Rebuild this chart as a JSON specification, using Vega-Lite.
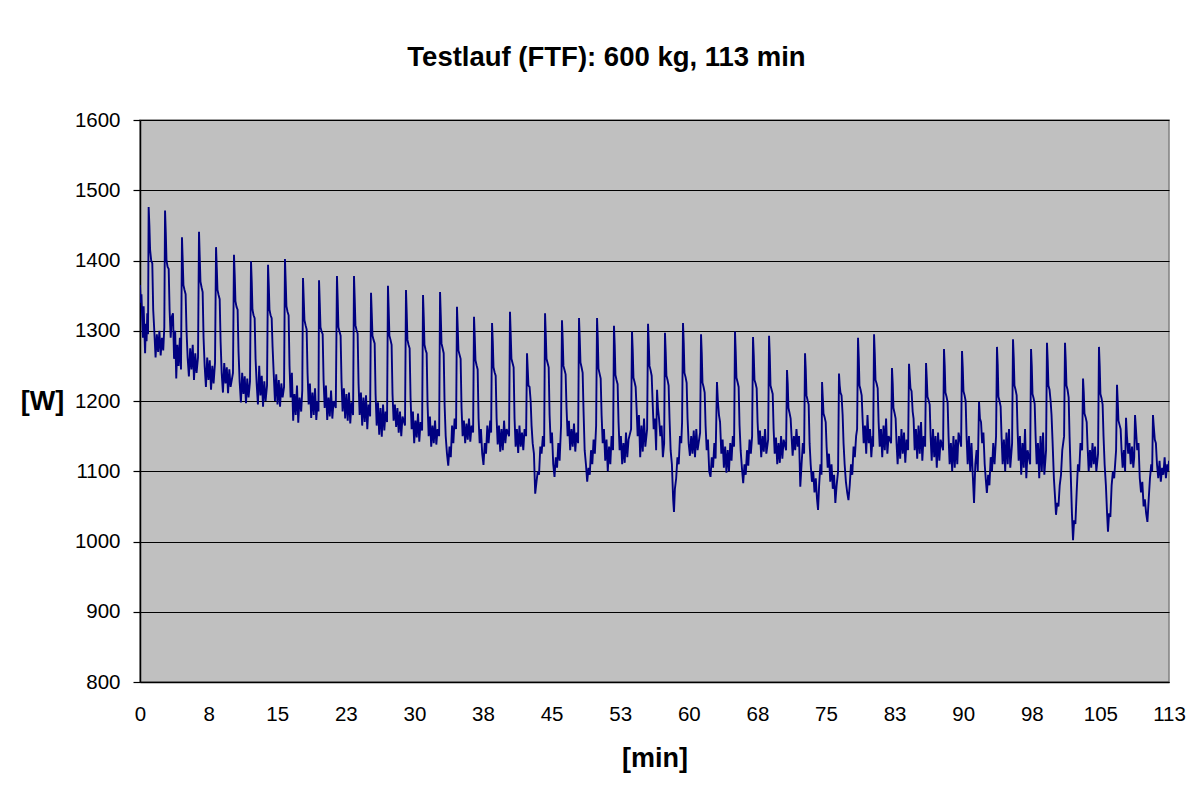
{
  "$schema": "https://vega.github.io/schema/vega-lite/v6.json",
  "autosize": {"type": "none"},
  "padding": {"left": 140, "top": 120, "right": 23, "bottom": 114},
  "width": 1029,
  "height": 562,
  "background": "white",
  "title": {
    "text": "Testlauf (FTF): 600 kg, 113 min",
    "font": "Liberation Sans",
    "fontSize": 27.5,
    "fontWeight": "bold",
    "color": "black",
    "anchor": "middle",
    "frame": "group",
    "dx": -48,
    "baseline": "alphabetic",
    "offset": 17
  },
  "data": {"values": [
    {"t":0,"w":1365},{"t":0.08,"w":1340},{"t":0.16,"w":1352},{"t":0.24,"w":1318},{"t":0.32,"w":1290},{"t":0.4,"w":1335},{"t":0.48,"w":1300},{"t":0.56,"w":1268},{"t":0.64,"w":1310},{"t":0.72,"w":1285},{"t":0.8,"w":1325},{"t":0.88,"w":1295},
    {"t":0.95,"w":1476},{"t":1.03,"w":1450},{"t":1.11,"w":1415},{"t":1.23,"w":1400},{"t":1.35,"w":1396},{"t":1.45,"w":1330},{"t":1.57,"w":1300},{"t":1.71,"w":1262},{"t":1.85,"w":1295},{"t":1.99,"w":1270},{"t":2.13,"w":1300},{"t":2.27,"w":1265},{"t":2.41,"w":1290},{"t":2.55,"w":1272},{"t":2.67,"w":1305},
    {"t":2.75,"w":1471},{"t":2.83,"w":1440},{"t":2.91,"w":1400},{"t":3.03,"w":1391},{"t":3.15,"w":1388},{"t":3.25,"w":1330},{"t":3.37,"w":1290},{"t":3.49,"w":1320},{"t":3.62,"w":1325},{"t":3.74,"w":1260},{"t":3.86,"w":1300},{"t":3.98,"w":1232},{"t":4.1,"w":1280},{"t":4.24,"w":1250},{"t":4.38,"w":1290},{"t":4.5,"w":1245},
    {"t":4.61,"w":1433},{"t":4.69,"w":1400},{"t":4.77,"w":1365},{"t":4.89,"w":1358},{"t":5.01,"w":1352},{"t":5.11,"w":1300},{"t":5.23,"w":1262},{"t":5.37,"w":1235},{"t":5.51,"w":1275},{"t":5.65,"w":1245},{"t":5.79,"w":1280},{"t":5.93,"w":1230},{"t":6.07,"w":1268},{"t":6.21,"w":1240},{"t":6.37,"w":1262},
    {"t":6.48,"w":1441},{"t":6.56,"w":1405},{"t":6.64,"w":1370},{"t":6.76,"w":1362},{"t":6.88,"w":1355},{"t":6.98,"w":1290},{"t":7.1,"w":1250},{"t":7.24,"w":1220},{"t":7.38,"w":1262},{"t":7.52,"w":1230},{"t":7.66,"w":1258},{"t":7.8,"w":1216},{"t":7.94,"w":1250},{"t":8.08,"w":1225},{"t":8.24,"w":1255},
    {"t":8.35,"w":1419},{"t":8.43,"w":1390},{"t":8.51,"w":1358},{"t":8.63,"w":1351},{"t":8.75,"w":1345},{"t":8.85,"w":1285},{"t":8.97,"w":1240},{"t":9.11,"w":1212},{"t":9.25,"w":1254},{"t":9.39,"w":1225},{"t":9.53,"w":1248},{"t":9.67,"w":1211},{"t":9.81,"w":1245},{"t":9.95,"w":1220},{"t":10.21,"w":1240},
    {"t":10.32,"w":1408},{"t":10.4,"w":1380},{"t":10.48,"w":1342},{"t":10.6,"w":1334},{"t":10.72,"w":1330},{"t":10.82,"w":1270},{"t":10.94,"w":1228},{"t":11.08,"w":1198},{"t":11.22,"w":1240},{"t":11.36,"w":1210},{"t":11.5,"w":1235},{"t":11.64,"w":1197},{"t":11.78,"w":1232},{"t":11.92,"w":1205},{"t":12.08,"w":1228},
    {"t":12.19,"w":1399},{"t":12.27,"w":1370},{"t":12.35,"w":1330},{"t":12.47,"w":1322},{"t":12.59,"w":1318},{"t":12.69,"w":1260},{"t":12.81,"w":1225},{"t":12.95,"w":1195},{"t":13.09,"w":1250},{"t":13.23,"w":1208},{"t":13.37,"w":1236},{"t":13.51,"w":1192},{"t":13.65,"w":1228},{"t":13.79,"w":1200},{"t":13.95,"w":1222},
    {"t":14.06,"w":1394},{"t":14.14,"w":1365},{"t":14.22,"w":1330},{"t":14.34,"w":1322},{"t":14.46,"w":1318},{"t":14.56,"w":1277},{"t":14.68,"w":1240},{"t":14.82,"w":1200},{"t":14.96,"w":1238},{"t":15.1,"w":1195},{"t":15.24,"w":1230},{"t":15.38,"w":1192},{"t":15.52,"w":1225},{"t":15.66,"w":1205},{"t":15.82,"w":1220},
    {"t":15.92,"w":1402},{"t":16,"w":1370},{"t":16.08,"w":1335},{"t":16.2,"w":1327},{"t":16.32,"w":1322},{"t":16.42,"w":1250},{"t":16.54,"w":1205},{"t":16.68,"w":1240},{"t":16.82,"w":1172},{"t":16.96,"w":1210},{"t":17.1,"w":1180},{"t":17.24,"w":1222},{"t":17.38,"w":1169},{"t":17.52,"w":1205},{"t":17.7,"w":1185},{"t":17.82,"w":1215},
    {"t":17.9,"w":1375},{"t":17.98,"w":1345},{"t":18.06,"w":1315},{"t":18.18,"w":1308},{"t":18.3,"w":1302},{"t":18.4,"w":1240},{"t":18.52,"w":1195},{"t":18.66,"w":1225},{"t":18.8,"w":1176},{"t":18.94,"w":1212},{"t":19.08,"w":1180},{"t":19.22,"w":1218},{"t":19.36,"w":1173},{"t":19.5,"w":1200},{"t":19.6,"w":1185},
    {"t":19.66,"w":1372},{"t":19.74,"w":1340},{"t":19.82,"w":1305},{"t":19.94,"w":1299},{"t":20.06,"w":1295},{"t":20.16,"w":1230},{"t":20.28,"w":1190},{"t":20.42,"w":1222},{"t":20.56,"w":1173},{"t":20.7,"w":1205},{"t":20.84,"w":1178},{"t":20.98,"w":1215},{"t":21.12,"w":1175},{"t":21.26,"w":1200},{"t":21.5,"w":1190},
    {"t":21.63,"w":1378},{"t":21.71,"w":1345},{"t":21.79,"w":1305},{"t":21.91,"w":1299},{"t":22.03,"w":1293},{"t":22.13,"w":1228},{"t":22.25,"w":1185},{"t":22.39,"w":1218},{"t":22.53,"w":1175},{"t":22.67,"w":1210},{"t":22.81,"w":1172},{"t":22.95,"w":1212},{"t":23.09,"w":1168},{"t":23.23,"w":1198},{"t":23.4,"w":1180},
    {"t":23.5,"w":1378},{"t":23.58,"w":1345},{"t":23.66,"w":1308},{"t":23.78,"w":1301},{"t":23.9,"w":1296},{"t":24,"w":1225},{"t":24.12,"w":1180},{"t":24.26,"w":1212},{"t":24.4,"w":1165},{"t":24.54,"w":1205},{"t":24.68,"w":1170},{"t":24.82,"w":1208},{"t":24.96,"w":1160},{"t":25.1,"w":1195},{"t":25.27,"w":1178},
    {"t":25.37,"w":1354},{"t":25.45,"w":1325},{"t":25.53,"w":1293},{"t":25.65,"w":1287},{"t":25.77,"w":1282},{"t":25.87,"w":1210},{"t":25.99,"w":1165},{"t":26.13,"w":1198},{"t":26.27,"w":1152},{"t":26.41,"w":1190},{"t":26.55,"w":1149},{"t":26.69,"w":1195},{"t":26.83,"w":1158},{"t":26.97,"w":1185},{"t":27.13,"w":1170},
    {"t":27.23,"w":1364},{"t":27.31,"w":1330},{"t":27.39,"w":1293},{"t":27.51,"w":1287},{"t":27.63,"w":1280},{"t":27.73,"w":1210},{"t":27.85,"w":1172},{"t":27.99,"w":1195},{"t":28.13,"w":1163},{"t":28.27,"w":1190},{"t":28.41,"w":1155},{"t":28.55,"w":1185},{"t":28.69,"w":1150},{"t":28.83,"w":1178},{"t":29.1,"w":1165},
    {"t":29.21,"w":1358},{"t":29.29,"w":1325},{"t":29.37,"w":1287},{"t":29.49,"w":1280},{"t":29.61,"w":1275},{"t":29.71,"w":1205},{"t":29.83,"w":1160},{"t":29.97,"w":1185},{"t":30.11,"w":1140},{"t":30.25,"w":1172},{"t":30.39,"w":1148},{"t":30.53,"w":1182},{"t":30.67,"w":1142},{"t":30.81,"w":1170},{"t":30.98,"w":1158},
    {"t":31.08,"w":1351},{"t":31.16,"w":1320},{"t":31.24,"w":1280},{"t":31.36,"w":1273},{"t":31.48,"w":1268},{"t":31.58,"w":1195},{"t":31.7,"w":1150},{"t":31.84,"w":1178},{"t":31.98,"w":1135},{"t":32.12,"w":1165},{"t":32.26,"w":1140},{"t":32.4,"w":1172},{"t":32.54,"w":1138},{"t":32.68,"w":1160},{"t":32.85,"w":1150},
    {"t":32.95,"w":1355},{"t":33.03,"w":1322},{"t":33.11,"w":1282},{"t":33.23,"w":1275},{"t":33.35,"w":1268},{"t":33.45,"w":1195},{"t":33.57,"w":1150},{"t":33.71,"w":1125},{"t":33.85,"w":1108},{"t":33.99,"w":1135},{"t":34.13,"w":1120},{"t":34.27,"w":1165},{"t":34.41,"w":1140},{"t":34.55,"w":1175},{"t":34.71,"w":1160},
    {"t":34.81,"w":1334},{"t":34.89,"w":1305},{"t":34.97,"w":1272},{"t":35.09,"w":1266},{"t":35.21,"w":1260},{"t":35.31,"w":1190},{"t":35.43,"w":1150},{"t":35.57,"w":1172},{"t":35.71,"w":1140},{"t":35.85,"w":1168},{"t":35.99,"w":1145},{"t":36.13,"w":1175},{"t":36.27,"w":1142},{"t":36.41,"w":1165},{"t":36.58,"w":1155},
    {"t":36.68,"w":1320},{"t":36.76,"w":1292},{"t":36.84,"w":1258},{"t":36.96,"w":1251},{"t":37.08,"w":1245},{"t":37.18,"w":1175},{"t":37.3,"w":1140},{"t":37.44,"w":1160},{"t":37.58,"w":1125},{"t":37.72,"w":1109},{"t":37.86,"w":1140},{"t":38,"w":1125},{"t":38.14,"w":1165},{"t":38.28,"w":1140},{"t":38.46,"w":1172},{"t":38.56,"w":1155},
    {"t":38.66,"w":1311},{"t":38.74,"w":1285},{"t":38.82,"w":1248},{"t":38.94,"w":1241},{"t":39.06,"w":1236},{"t":39.16,"w":1175},{"t":39.28,"w":1138},{"t":39.42,"w":1165},{"t":39.56,"w":1128},{"t":39.7,"w":1160},{"t":39.84,"w":1130},{"t":39.98,"w":1172},{"t":40.12,"w":1140},{"t":40.26,"w":1160},{"t":40.53,"w":1150},
    {"t":40.63,"w":1327},{"t":40.71,"w":1295},{"t":40.79,"w":1260},{"t":40.91,"w":1254},{"t":41.03,"w":1248},{"t":41.13,"w":1175},{"t":41.25,"w":1135},{"t":41.39,"w":1160},{"t":41.53,"w":1126},{"t":41.67,"w":1165},{"t":41.81,"w":1135},{"t":41.95,"w":1155},{"t":42.09,"w":1130},{"t":42.23,"w":1160},{"t":42.4,"w":1150},
    {"t":42.5,"w":1268},{"t":42.58,"w":1245},{"t":42.66,"w":1222},{"t":42.78,"w":1220},{"t":42.9,"w":1200},{"t":43,"w":1165},{"t":43.12,"w":1140},{"t":43.26,"w":1125},{"t":43.4,"w":1068},{"t":43.54,"w":1085},{"t":43.68,"w":1100},{"t":43.82,"w":1095},{"t":43.96,"w":1135},{"t":44.1,"w":1125},{"t":44.24,"w":1150},{"t":44.38,"w":1135},
    {"t":44.48,"w":1325},{"t":44.56,"w":1295},{"t":44.64,"w":1260},{"t":44.76,"w":1254},{"t":44.88,"w":1248},{"t":44.98,"w":1180},{"t":45.1,"w":1140},{"t":45.24,"w":1155},{"t":45.38,"w":1110},{"t":45.52,"w":1092},{"t":45.66,"w":1120},{"t":45.8,"w":1105},{"t":45.94,"w":1140},{"t":46.08,"w":1115},{"t":46.24,"w":1165},
    {"t":46.34,"w":1315},{"t":46.42,"w":1288},{"t":46.5,"w":1250},{"t":46.62,"w":1244},{"t":46.74,"w":1238},{"t":46.84,"w":1190},{"t":46.96,"w":1150},{"t":47.1,"w":1172},{"t":47.24,"w":1130},{"t":47.38,"w":1160},{"t":47.52,"w":1135},{"t":47.66,"w":1168},{"t":47.8,"w":1128},{"t":47.94,"w":1155},{"t":48.11,"w":1140},
    {"t":48.21,"w":1318},{"t":48.29,"w":1290},{"t":48.37,"w":1255},{"t":48.49,"w":1248},{"t":48.61,"w":1240},{"t":48.71,"w":1185},{"t":48.83,"w":1130},{"t":48.97,"w":1110},{"t":49.11,"w":1085},{"t":49.25,"w":1105},{"t":49.39,"w":1095},{"t":49.53,"w":1130},{"t":49.67,"w":1110},{"t":49.81,"w":1145},{"t":49.95,"w":1125},{"t":50.09,"w":1165},
    {"t":50.19,"w":1318},{"t":50.27,"w":1290},{"t":50.35,"w":1246},{"t":50.47,"w":1239},{"t":50.59,"w":1232},{"t":50.69,"w":1180},{"t":50.81,"w":1140},{"t":50.95,"w":1160},{"t":51.09,"w":1115},{"t":51.23,"w":1145},{"t":51.37,"w":1100},{"t":51.51,"w":1135},{"t":51.65,"w":1110},{"t":51.79,"w":1150},{"t":51.95,"w":1130},
    {"t":52.05,"w":1307},{"t":52.13,"w":1280},{"t":52.21,"w":1237},{"t":52.33,"w":1230},{"t":52.45,"w":1224},{"t":52.55,"w":1170},{"t":52.67,"w":1130},{"t":52.81,"w":1150},{"t":52.95,"w":1110},{"t":53.09,"w":1140},{"t":53.23,"w":1112},{"t":53.37,"w":1155},{"t":53.51,"w":1120},{"t":53.65,"w":1145},{"t":53.93,"w":1160},
    {"t":54.03,"w":1299},{"t":54.11,"w":1272},{"t":54.19,"w":1233},{"t":54.31,"w":1227},{"t":54.43,"w":1220},{"t":54.53,"w":1190},{"t":54.65,"w":1150},{"t":54.79,"w":1180},{"t":54.93,"w":1120},{"t":55.07,"w":1165},{"t":55.21,"w":1128},{"t":55.35,"w":1175},{"t":55.49,"w":1135},{"t":55.69,"w":1160},
    {"t":55.79,"w":1310},{"t":55.87,"w":1282},{"t":55.95,"w":1250},{"t":56.07,"w":1244},{"t":56.19,"w":1236},{"t":56.29,"w":1200},{"t":56.41,"w":1160},{"t":56.55,"w":1175},{"t":56.68,"w":1130},{"t":56.78,"w":1216},{"t":56.88,"w":1190},{"t":57,"w":1175},{"t":57.14,"w":1150},{"t":57.28,"w":1165},{"t":57.42,"w":1120},{"t":57.56,"w":1140},
    {"t":57.65,"w":1297},{"t":57.73,"w":1270},{"t":57.81,"w":1236},{"t":57.93,"w":1230},{"t":58.05,"w":1222},{"t":58.15,"w":1175},{"t":58.27,"w":1130},{"t":58.41,"w":1110},{"t":58.55,"w":1060},{"t":58.64,"w":1042},{"t":58.74,"w":1075},{"t":58.88,"w":1090},{"t":59.02,"w":1120},{"t":59.16,"w":1110},{"t":59.3,"w":1150},{"t":59.44,"w":1140},{"t":59.53,"w":1170},
    {"t":59.63,"w":1311},{"t":59.71,"w":1283},{"t":59.79,"w":1240},{"t":59.91,"w":1234},{"t":60.03,"w":1226},{"t":60.13,"w":1175},{"t":60.25,"w":1140},{"t":60.39,"w":1122},{"t":60.53,"w":1150},{"t":60.67,"w":1125},{"t":60.81,"w":1158},{"t":60.95,"w":1120},{"t":61.09,"w":1160},{"t":61.23,"w":1130},{"t":61.51,"w":1155},
    {"t":61.61,"w":1295},{"t":61.69,"w":1268},{"t":61.77,"w":1226},{"t":61.89,"w":1220},{"t":62.01,"w":1212},{"t":62.11,"w":1165},{"t":62.23,"w":1130},{"t":62.37,"w":1145},{"t":62.51,"w":1100},{"t":62.65,"w":1092},{"t":62.79,"w":1120},{"t":62.93,"w":1105},{"t":63.07,"w":1140},{"t":63.21,"w":1118},
    {"t":63.36,"w":1227},{"t":63.46,"w":1200},{"t":63.58,"w":1180},{"t":63.7,"w":1170},{"t":63.84,"w":1125},{"t":63.98,"w":1145},{"t":64.12,"w":1105},{"t":64.26,"w":1135},{"t":64.4,"w":1098},{"t":64.54,"w":1130},{"t":64.68,"w":1100},{"t":64.82,"w":1140},{"t":64.96,"w":1115},{"t":65.1,"w":1150},{"t":65.24,"w":1135},
    {"t":65.34,"w":1299},{"t":65.42,"w":1270},{"t":65.5,"w":1233},{"t":65.62,"w":1227},{"t":65.74,"w":1220},{"t":65.84,"w":1165},{"t":65.96,"w":1130},{"t":66.1,"w":1105},{"t":66.24,"w":1083},{"t":66.38,"w":1110},{"t":66.52,"w":1095},{"t":66.66,"w":1130},{"t":66.8,"w":1108},{"t":66.94,"w":1145},{"t":67.08,"w":1125},{"t":67.22,"w":1150},
    {"t":67.32,"w":1291},{"t":67.4,"w":1265},{"t":67.48,"w":1230},{"t":67.6,"w":1225},{"t":67.72,"w":1218},{"t":67.82,"w":1170},{"t":67.94,"w":1138},{"t":68.08,"w":1158},{"t":68.22,"w":1120},{"t":68.36,"w":1150},{"t":68.5,"w":1128},{"t":68.64,"w":1160},{"t":68.78,"w":1125},{"t":68.98,"w":1145},
    {"t":69.08,"w":1293},{"t":69.16,"w":1265},{"t":69.24,"w":1222},{"t":69.36,"w":1216},{"t":69.48,"w":1210},{"t":69.58,"w":1160},{"t":69.7,"w":1125},{"t":69.84,"w":1148},{"t":69.98,"w":1110},{"t":70.12,"w":1140},{"t":70.26,"w":1112},{"t":70.4,"w":1150},{"t":70.54,"w":1118},{"t":70.68,"w":1145},{"t":70.95,"w":1130},
    {"t":71.05,"w":1244},{"t":71.13,"w":1225},{"t":71.21,"w":1190},{"t":71.33,"w":1183},{"t":71.45,"w":1175},{"t":71.55,"w":1150},{"t":71.67,"w":1122},{"t":71.81,"w":1150},{"t":71.95,"w":1130},{"t":72.09,"w":1160},{"t":72.23,"w":1135},{"t":72.37,"w":1150},{"t":72.51,"w":1078},{"t":72.65,"w":1110},{"t":72.79,"w":1140},{"t":72.93,"w":1125},
    {"t":73.03,"w":1268},{"t":73.11,"w":1245},{"t":73.19,"w":1208},{"t":73.31,"w":1201},{"t":73.43,"w":1195},{"t":73.53,"w":1140},{"t":73.65,"w":1110},{"t":73.79,"w":1085},{"t":73.93,"w":1100},{"t":74.07,"w":1070},{"t":74.21,"w":1090},{"t":74.35,"w":1060},{"t":74.46,"w":1045},{"t":74.58,"w":1080},{"t":74.72,"w":1110},{"t":74.84,"w":1095},
    {"t":74.9,"w":1227},{"t":74.98,"w":1205},{"t":75.06,"w":1182},{"t":75.18,"w":1177},{"t":75.3,"w":1170},{"t":75.4,"w":1135},{"t":75.52,"w":1105},{"t":75.66,"w":1125},{"t":75.8,"w":1085},{"t":75.94,"w":1110},{"t":76.08,"w":1075},{"t":76.22,"w":1095},{"t":76.36,"w":1055},{"t":76.5,"w":1080},{"t":76.66,"w":1100},
    {"t":76.76,"w":1239},{"t":76.84,"w":1222},{"t":76.92,"w":1212},{"t":77.04,"w":1208},{"t":77.16,"w":1180},{"t":77.26,"w":1140},{"t":77.38,"w":1110},{"t":77.52,"w":1085},{"t":77.66,"w":1070},{"t":77.8,"w":1059},{"t":77.94,"w":1080},{"t":78.08,"w":1110},{"t":78.22,"w":1095},{"t":78.36,"w":1135},{"t":78.5,"w":1120},{"t":78.64,"w":1150},{"t":78.75,"w":1160},
    {"t":78.85,"w":1290},{"t":78.93,"w":1262},{"t":79.01,"w":1222},{"t":79.13,"w":1216},{"t":79.25,"w":1208},{"t":79.35,"w":1175},{"t":79.47,"w":1140},{"t":79.61,"w":1165},{"t":79.75,"w":1125},{"t":79.89,"w":1180},{"t":80.03,"w":1140},{"t":80.17,"w":1160},{"t":80.31,"w":1120},{"t":80.45,"w":1150},{"t":80.51,"w":1135},
    {"t":80.61,"w":1295},{"t":80.69,"w":1268},{"t":80.77,"w":1230},{"t":80.89,"w":1225},{"t":81.01,"w":1218},{"t":81.11,"w":1170},{"t":81.23,"w":1135},{"t":81.37,"w":1160},{"t":81.51,"w":1120},{"t":81.65,"w":1165},{"t":81.79,"w":1130},{"t":81.93,"w":1175},{"t":82.07,"w":1125},{"t":82.21,"w":1150},{"t":82.48,"w":1140},
    {"t":82.58,"w":1247},{"t":82.66,"w":1225},{"t":82.74,"w":1190},{"t":82.86,"w":1183},{"t":82.98,"w":1175},{"t":83.08,"w":1140},{"t":83.2,"w":1110},{"t":83.34,"w":1150},{"t":83.48,"w":1118},{"t":83.62,"w":1160},{"t":83.76,"w":1125},{"t":83.9,"w":1155},{"t":84.04,"w":1112},{"t":84.18,"w":1145},{"t":84.35,"w":1130},
    {"t":84.45,"w":1253},{"t":84.53,"w":1235},{"t":84.61,"w":1218},{"t":84.73,"w":1214},{"t":84.85,"w":1185},{"t":84.95,"w":1175},{"t":85.07,"w":1130},{"t":85.21,"w":1160},{"t":85.35,"w":1118},{"t":85.49,"w":1165},{"t":85.63,"w":1125},{"t":85.77,"w":1170},{"t":85.91,"w":1115},{"t":86.05,"w":1150},{"t":86.22,"w":1135},
    {"t":86.32,"w":1254},{"t":86.4,"w":1232},{"t":86.48,"w":1206},{"t":86.6,"w":1201},{"t":86.72,"w":1195},{"t":86.82,"w":1150},{"t":86.94,"w":1115},{"t":87.08,"w":1160},{"t":87.22,"w":1120},{"t":87.36,"w":1150},{"t":87.5,"w":1105},{"t":87.64,"w":1155},{"t":87.78,"w":1115},{"t":87.92,"w":1145},{"t":88.19,"w":1130},
    {"t":88.29,"w":1274},{"t":88.37,"w":1250},{"t":88.45,"w":1212},{"t":88.57,"w":1206},{"t":88.69,"w":1198},{"t":88.79,"w":1150},{"t":88.91,"w":1110},{"t":89.05,"w":1140},{"t":89.19,"w":1100},{"t":89.33,"w":1150},{"t":89.47,"w":1105},{"t":89.61,"w":1145},{"t":89.75,"w":1110},{"t":89.89,"w":1155},{"t":90.17,"w":1135},
    {"t":90.27,"w":1271},{"t":90.35,"w":1248},{"t":90.43,"w":1214},{"t":90.55,"w":1208},{"t":90.67,"w":1200},{"t":90.77,"w":1150},{"t":90.89,"w":1110},{"t":91.03,"w":1150},{"t":91.17,"w":1100},{"t":91.31,"w":1140},{"t":91.45,"w":1095},{"t":91.59,"w":1055},{"t":91.73,"w":1110},{"t":91.87,"w":1130},{"t":92,"w":1100},
    {"t":92.14,"w":1199},{"t":92.24,"w":1175},{"t":92.36,"w":1170},{"t":92.48,"w":1140},{"t":92.62,"w":1155},{"t":92.76,"w":1110},{"t":92.9,"w":1085},{"t":93,"w":1069},{"t":93.14,"w":1095},{"t":93.28,"w":1080},{"t":93.42,"w":1120},{"t":93.56,"w":1100},{"t":93.7,"w":1140},{"t":93.84,"w":1110},{"t":94.01,"w":1150},
    {"t":94.11,"w":1277},{"t":94.19,"w":1252},{"t":94.27,"w":1206},{"t":94.39,"w":1200},{"t":94.51,"w":1192},{"t":94.61,"w":1150},{"t":94.73,"w":1110},{"t":94.87,"w":1145},{"t":95.01,"w":1100},{"t":95.15,"w":1155},{"t":95.29,"w":1110},{"t":95.43,"w":1160},{"t":95.57,"w":1105},{"t":95.77,"w":1140},
    {"t":95.87,"w":1288},{"t":95.95,"w":1262},{"t":96.03,"w":1222},{"t":96.15,"w":1216},{"t":96.27,"w":1208},{"t":96.37,"w":1160},{"t":96.49,"w":1115},{"t":96.63,"w":1150},{"t":96.77,"w":1095},{"t":96.91,"w":1140},{"t":97.05,"w":1105},{"t":97.19,"w":1160},{"t":97.33,"w":1090},{"t":97.47,"w":1130},{"t":97.75,"w":1110},
    {"t":97.85,"w":1274},{"t":97.93,"w":1250},{"t":98.01,"w":1210},{"t":98.13,"w":1204},{"t":98.25,"w":1196},{"t":98.35,"w":1150},{"t":98.47,"w":1110},{"t":98.61,"w":1140},{"t":98.75,"w":1090},{"t":98.89,"w":1150},{"t":99.03,"w":1100},{"t":99.17,"w":1155},{"t":99.31,"w":1095},{"t":99.5,"w":1130},
    {"t":99.6,"w":1283},{"t":99.68,"w":1258},{"t":99.76,"w":1222},{"t":99.88,"w":1216},{"t":100,"w":1200},{"t":100.1,"w":1180},{"t":100.22,"w":1140},{"t":100.36,"w":1090},{"t":100.5,"w":1060},{"t":100.59,"w":1038},{"t":100.72,"w":1055},{"t":100.86,"w":1050},{"t":101,"w":1080},{"t":101.14,"w":1095},{"t":101.28,"w":1130},{"t":101.48,"w":1150},
    {"t":101.58,"w":1283},{"t":101.66,"w":1258},{"t":101.74,"w":1222},{"t":101.86,"w":1216},{"t":101.98,"w":1205},{"t":102.08,"w":1150},{"t":102.2,"w":1100},{"t":102.34,"w":1040},{"t":102.46,"w":1002},{"t":102.58,"w":1030},{"t":102.72,"w":1025},{"t":102.86,"w":1070},{"t":103,"w":1110},{"t":103.14,"w":1100},{"t":103.28,"w":1140},{"t":103.46,"w":1130},
    {"t":103.56,"w":1232},{"t":103.64,"w":1212},{"t":103.72,"w":1182},{"t":103.84,"w":1177},{"t":103.96,"w":1170},{"t":104.06,"w":1135},{"t":104.18,"w":1100},{"t":104.32,"w":1130},{"t":104.46,"w":1105},{"t":104.6,"w":1140},{"t":104.74,"w":1110},{"t":104.88,"w":1135},{"t":105.02,"w":1100},{"t":105.21,"w":1125},
    {"t":105.31,"w":1277},{"t":105.39,"w":1250},{"t":105.47,"w":1210},{"t":105.59,"w":1204},{"t":105.71,"w":1195},{"t":105.81,"w":1150},{"t":105.93,"w":1110},{"t":106.07,"w":1080},{"t":106.2,"w":1040},{"t":106.3,"w":1014},{"t":106.42,"w":1040},{"t":106.56,"w":1035},{"t":106.7,"w":1080},{"t":106.84,"w":1100},{"t":106.98,"w":1090},{"t":107.19,"w":1130},
    {"t":107.29,"w":1223},{"t":107.37,"w":1200},{"t":107.45,"w":1172},{"t":107.57,"w":1166},{"t":107.69,"w":1160},{"t":107.79,"w":1130},{"t":107.91,"w":1105},{"t":108.05,"w":1130},{"t":108.18,"w":1100},
    {"t":108.28,"w":1176},{"t":108.38,"w":1150},{"t":108.52,"w":1125},{"t":108.66,"w":1140},{"t":108.8,"w":1110},{"t":108.94,"w":1135},{"t":109.08,"w":1105},{"t":109.18,"w":1120},
    {"t":109.27,"w":1180},{"t":109.37,"w":1160},{"t":109.51,"w":1130},{"t":109.65,"w":1140},{"t":109.79,"w":1090},{"t":109.93,"w":1070},{"t":110.07,"w":1085},{"t":110.21,"w":1050},{"t":110.35,"w":1060},{"t":110.49,"w":1040},{"t":110.63,"w":1028},{"t":110.77,"w":1060},{"t":110.91,"w":1090},{"t":111.05,"w":1110},{"t":111.15,"w":1100},
    {"t":111.24,"w":1180},{"t":111.32,"w":1165},{"t":111.44,"w":1145},{"t":111.56,"w":1140},{"t":111.68,"w":1110},{"t":111.82,"w":1090},{"t":111.96,"w":1115},{"t":112.1,"w":1085},{"t":112.24,"w":1105},{"t":112.38,"w":1095},{"t":112.52,"w":1120},{"t":112.66,"w":1090},{"t":112.8,"w":1110},{"t":112.92,"w":1100},{"t":113,"w":1115}
  ]},
  "mark": {"type": "line", "color": "#000080", "strokeWidth": 1.9, "interpolate": "linear", "clip": true},
  "encoding": {
    "x": {
      "field": "t",
      "type": "quantitative",
      "scale": {"domain": [0, 113], "nice": false, "zero": false},
      "axis": {
        "title": "[min]",
        "titleFont": "Liberation Sans",
        "titleFontSize": 27,
        "titleFontWeight": "bold",
        "titleColor": "black",
        "titleBaseline": "middle",
        "titleY": 76,
        "values": [0, 7.5333, 15.0667, 22.6, 30.1333, 37.6667, 45.2, 52.7333, 60.2667, 67.8, 75.3333, 82.8667, 90.4, 97.9333, 105.4667, 113],
        "format": ".0f",
        "grid": false,
        "ticks": false,
        "labelPadding": 22,
        "labelFont": "Liberation Sans",
        "labelFontSize": 20.5,
        "labelColor": "black",
        "labelFlush": false,
        "labelOverlap": false,
        "domainColor": "black",
        "domainWidth": 1.5
      }
    },
    "y": {
      "field": "w",
      "type": "quantitative",
      "scale": {"domain": [800, 1600], "nice": false, "zero": false},
      "axis": {
        "title": "[W]",
        "titleFont": "Liberation Sans",
        "titleFontSize": 27,
        "titleFontWeight": "bold",
        "titleColor": "black",
        "titleAngle": 0,
        "titleAlign": "center",
        "titleBaseline": "middle",
        "titleX": -98,
        "titleY": 281,
        "values": [800, 900, 1000, 1100, 1200, 1300, 1400, 1500, 1600],
        "format": "d",
        "labelFont": "Liberation Sans",
        "labelFontSize": 20.5,
        "labelColor": "black",
        "labelPadding": 13,
        "tickSize": 7,
        "tickColor": "black",
        "tickWidth": 1.2,
        "domainColor": "black",
        "domainWidth": 1.5,
        "grid": true,
        "gridColor": "black",
        "gridWidth": 1.2,
        "gridOpacity": 1
      }
    }
  },
  "config": {
    "view": {"fill": "#C0C0C0", "stroke": "#808080", "strokeWidth": 1.5}
  }
}
